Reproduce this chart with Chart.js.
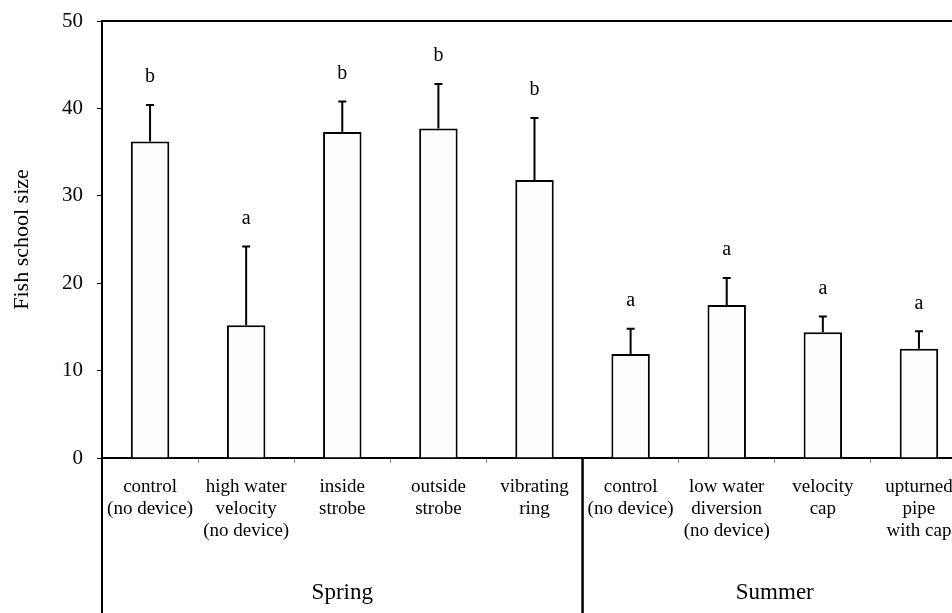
<!DOCTYPE html>
<html>
<head>
<meta charset="utf-8">
<script src="https://cdn.jsdelivr.net/npm/chart.js@4/dist/chart.umd.min.js"></script>
<style>
  html, body { margin: 0; padding: 0; background: #fff; overflow: hidden; }
  #wrap { width: 970px; height: 613px; }
</style>
</head>
<body>
<div id="wrap"><canvas id="fish"></canvas></div>
<script>
// categories (multi-line labels) and their season group
const categories = [
    ['control', '(no device)'],
    ['high water', 'velocity', '(no device)'],
    ['inside', 'strobe'],
    ['outside', 'strobe'],
    ['vibrating', 'ring'],
    ['control', '(no device)'],
    ['low water', 'diversion', '(no device)'],
    ['velocity', 'cap'],
    ['upturned', 'pipe', 'with cap']
];
const groups = ['Spring', 'Spring', 'Spring', 'Spring', 'Spring', 'Summer', 'Summer', 'Summer', 'Summer'];

// mean school size and upper error (+1 SE)
const means = [36.2, 15.2, 37.3, 37.7, 31.8, 11.9, 17.5, 14.4, 12.5];
const errors = [4.2, 9.0, 3.5, 5.1, 7.1, 2.9, 3.1, 1.8, 2.0];
const letters = ['b', 'a', 'b', 'b', 'b', 'a', 'a', 'a', 'a'];

const yTicks = [0, 10, 20, 30, 40, 50];

const FONT = 'Liberation Serif';

let extrasPlugin = {
    id: 'extras',
    afterDatasetsDraw(chart) {
        /*
        *   error bars and significance letters
        */
        const ctx = chart.ctx;
        const x = chart.scales.x, y = chart.scales.y;
        ctx.save();
        ctx.strokeStyle = '#000';
        ctx.lineWidth = 2;
        ctx.fillStyle = '#000';
        ctx.font = '20px "' + FONT + '"';
        ctx.textAlign = 'center';
        ctx.textBaseline = 'middle';
        means.forEach((m, i) => {
            const px = x.getPixelForValue(i);
            const y0 = y.getPixelForValue(m);
            const y1 = y.getPixelForValue(m + errors[i]);
            ctx.beginPath();
            ctx.moveTo(px, y0);
            ctx.lineTo(px, y1);
            ctx.moveTo(px - 4, y1);
            ctx.lineTo(px + 4, y1);
            ctx.stroke();
            ctx.fillText(letters[i], px, y1 - 28);
        });
        ctx.restore();
    },
    afterDraw(chart) {
        /*
        *   frame top line, group separators and season labels
        */
        const ctx = chart.ctx;
        const area = chart.chartArea;
        const x = chart.scales.x;
        const slot = (area.right - area.left) / categories.length;
        const bottom = chart.height;
        ctx.save();
        ctx.strokeStyle = '#000';
        ctx.lineWidth = 2;
        ctx.beginPath();
        ctx.moveTo(area.left - 1, area.top);
        ctx.lineTo(area.right, area.top);
        ctx.moveTo(area.right, area.top);
        ctx.lineTo(area.right, area.bottom);
        ctx.stroke();

        ctx.fillStyle = '#000';
        ctx.font = '23px "' + FONT + '"';
        ctx.textAlign = 'center';
        ctx.textBaseline = 'middle';
        let start = 0;
        for (let i = 1; i <= groups.length; i++) {
            if (i === groups.length || groups[i] !== groups[start]) {
                const left = x.getPixelForValue(start) - slot / 2;
                const right = x.getPixelForValue(i - 1) + slot / 2;
                ctx.beginPath();
                ctx.moveTo(left, area.bottom);
                ctx.lineTo(left, bottom);
                ctx.moveTo(right, area.bottom);
                ctx.lineTo(right, bottom);
                ctx.stroke();
                ctx.fillText(groups[start], (left + right) / 2, 593);
                start = i;
            }
        }
        ctx.restore();
    }
};

let ctx = document.getElementById('fish').getContext('2d');
let chart = new Chart(ctx, {
    type: 'bar',
    data: {
        labels: categories,
        datasets: [
            {
                data: means,
                backgroundColor: '#fdfdfd',
                borderColor: '#000',
                borderWidth: 2,
                barPercentage: 0.4,
                categoryPercentage: 1.0
            }
        ]
    },
    plugins: [extrasPlugin],
    options: {
        responsive: true,
        maintainAspectRatio: false,
        animation: false,
        layout: { padding: { top: 21, right: 3, left: 0, bottom: 0 } },
        plugins: {
            legend: { display: false },
            tooltip: { enabled: false }
        },
        scales: {
            x: {
                offset: true,
                grid: {
                    display: true,
                    drawOnChartArea: false,
                    offset: true,
                    tickLength: 5,
                    color: '#888',
                    lineWidth: 1
                },
                border: { display: true, color: '#000', width: 2 },
                ticks: {
                    color: '#000',
                    padding: 13,
                    maxRotation: 0,
                    autoSkip: false,
                    font: { family: FONT, size: 19, lineHeight: 1.15 }
                },
                afterFit(scale) { scale.height = 155; }
            },
            y: {
                min: 0,
                max: 50,
                afterBuildTicks(scale) { scale.ticks = yTicks.map(v => ({ value: v })); },
                grid: {
                    display: true,
                    drawOnChartArea: false,
                    tickLength: 5,
                    color: '#000',
                    lineWidth: 1
                },
                border: { display: true, color: '#000', width: 2 },
                ticks: {
                    color: '#000',
                    padding: 14,
                    font: { family: FONT, size: 21, lineHeight: 0.5 }
                },
                title: {
                    display: true,
                    text: 'Fish school size',
                    color: '#000',
                    padding: { top: 9, bottom: 0 },
                    font: { family: FONT, size: 22 }
                },
                afterFit(scale) { scale.width = 102; }
            }
        }
    }
});
</script>
</body>
</html>
